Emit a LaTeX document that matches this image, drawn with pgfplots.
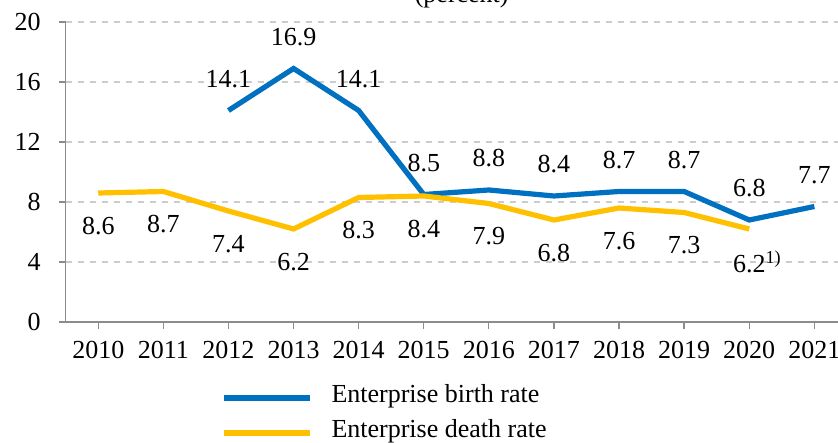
\documentclass[border=0pt]{standalone}
\usepackage{fontspec}
\setmainfont{Liberation Serif}
\usepackage{pgfplots}
\pgfplotsset{compat=1.18}
\usetikzlibrary{calc}
\definecolor{BirthBlue}{HTML}{0070C0}
\definecolor{DeathYellow}{HTML}{FFC000}
\begin{document}
\begin{tikzpicture}
\begin{axis}[name=ax,scale only axis,width=390.6pt,height=150pt,
  xmin=2009.5,xmax=2021.5,ymin=0,ymax=20,
  xtick={2010,...,2021},ytick={0,4,...,20},
  /pgf/number format/1000 sep={},
  /pgf/number format/assume math mode=true,
  axis x line=bottom,axis y line=left,axis line style={-,black!45,line width=0.6pt},
  tick style={black!45,line width=0.6pt},tick align=outside,major tick length=3.5pt,
  ymajorgrids,grid style={dashed,black!20,line width=0.6pt},
  tick label style={font=\fontsize{13}{15}\selectfont},
  xticklabel style={yshift=-2.5pt},yticklabel style={xshift=-5.5pt},
  legend style={draw=none,fill=none,at={(74.6pt,-27pt)},anchor=north west,
    font=\fontsize{13}{15}\selectfont,row sep=3pt,
    /tikz/every even column/.append style={column sep=0pt}},
  legend cell align=left,
  legend image code/.code={\draw[#1] (0pt,-1.5pt) -- (43pt,-1.5pt);},
  nodes near coords,point meta=explicit symbolic,
  every node near coord/.append style={font=\fontsize{13}{15}\selectfont,text=black,anchor=center}]
\addplot[BirthBlue,line width=2.6pt,every node near coord/.append style={yshift=15.75pt}]
  coordinates {(2012,14.1)[14.1] (2013,16.9)[16.9] (2014,14.1)[14.1] (2015,8.5)[8.5]
  (2016,8.8)[8.8] (2017,8.4)[8.4] (2018,8.7)[8.7] (2019,8.7)[8.7] (2020,6.8)[6.8] (2021,7.7)[7.7]};
\addlegendentry{\hspace{7.5pt}Enterprise birth rate}
\addplot[DeathYellow,line width=2.6pt,every node near coord/.append style={yshift=-16.5pt}]
  coordinates {(2010,8.6)[8.6] (2011,8.7)[8.7] (2012,7.4)[7.4] (2013,6.2)[6.2] (2014,8.3)[8.3]
  (2015,8.4)[8.4] (2016,7.9)[7.9] (2017,6.8)[6.8] (2018,7.6)[7.6] (2019,7.3)[7.3]
  (2020,6.2)[\hphantom{\textsuperscript{1)}}6.2\textsuperscript{1)}]};
\addlegendentry{\hspace{7.5pt}Enterprise death rate}
\end{axis}
\node[anchor=base,font=\fontsize{13}{15}\selectfont] at ($(ax.north west)+(198pt,9.5pt)$) {(percent)};
\pgfresetboundingbox
\path ($(ax.south west)+(-32.85pt,-60.5pt)$) rectangle ($(ax.north east)+(-4.45pt,11pt)$);
\end{tikzpicture}
\end{document}
